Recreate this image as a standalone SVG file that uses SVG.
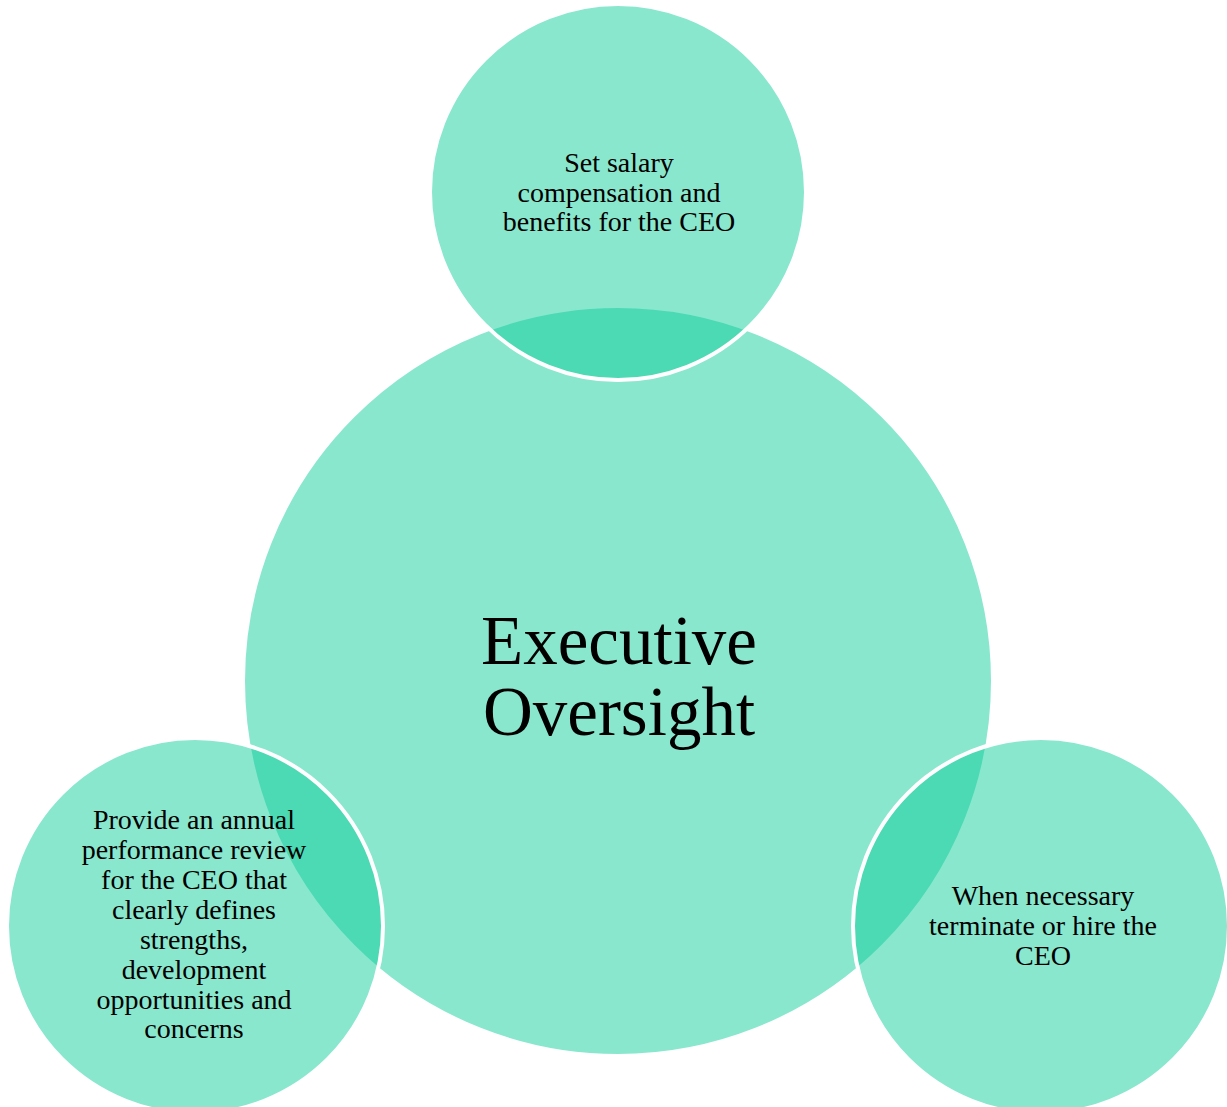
<svg xmlns="http://www.w3.org/2000/svg" width="1227" height="1107" viewBox="0 0 1227 1107">
  <style>
    .disc { fill: rgb(6,204,152); fill-opacity: 0.475; stroke: #ffffff; stroke-width: 4; }
    .lbl { font-family: "Liberation Serif", "Times New Roman", serif; font-size: 28px; fill: #000000; text-anchor: middle; }
    .title { font-family: "Liberation Serif", "Times New Roman", serif; font-size: 69px; fill: #000000; text-anchor: middle; }
  </style>
  <rect width="1227" height="1107" fill="#ffffff"/>
  <g id="connectors"></g>
  <g id="node-center">
    <circle class="disc" cx="618" cy="681" r="375"/>
    <text class="title" x="619" y="664">Executive</text>
    <text class="title" x="619" y="735">Oversight</text>
  </g>
  <g id="node-top">
    <circle class="disc" cx="618" cy="192" r="188"/>
    <text class="lbl" x="619" y="172">Set salary</text>
    <text class="lbl" x="619" y="202">compensation and</text>
    <text class="lbl" x="619" y="231">benefits for the CEO</text>
  </g>
  <g id="node-left">
    <circle class="disc" cx="195" cy="926" r="188"/>
    <text class="lbl" x="194" y="829">Provide an annual</text>
    <text class="lbl" x="194" y="859">performance review</text>
    <text class="lbl" x="194" y="889">for the CEO that</text>
    <text class="lbl" x="194" y="919">clearly defines</text>
    <text class="lbl" x="194" y="949">strengths,</text>
    <text class="lbl" x="194" y="979">development</text>
    <text class="lbl" x="194" y="1009">opportunities and</text>
    <text class="lbl" x="194" y="1038">concerns</text>
  </g>
  <g id="node-right">
    <circle class="disc" cx="1041" cy="926" r="188"/>
    <text class="lbl" x="1043" y="905">When necessary</text>
    <text class="lbl" x="1043" y="935">terminate or hire the</text>
    <text class="lbl" x="1043" y="965">CEO</text>
  </g>
</svg>
